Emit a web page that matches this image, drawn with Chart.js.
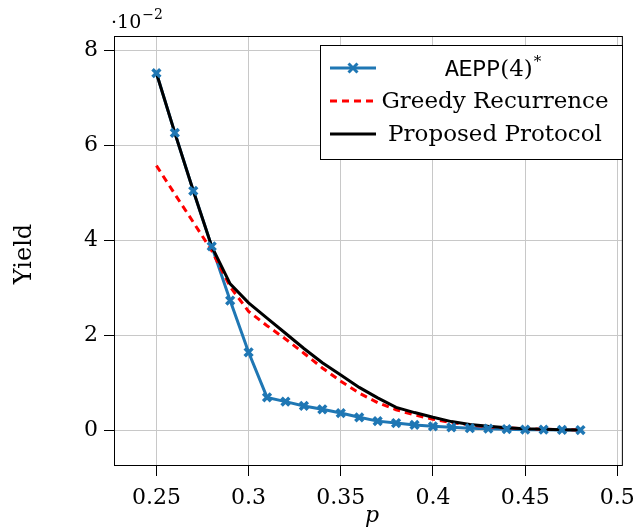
<!DOCTYPE html>
<html>
<head>
<meta charset="utf-8">
<script src="https://cdn.jsdelivr.net/npm/chart.js@4.4.1/dist/chart.umd.min.js"></script>
<style>
  html, body { margin: 0; padding: 0; background: #fff; }
  #wrap { width: 644px; height: 531px; }
</style>
</head>
<body>
<div id="wrap"><canvas id="myChart" width="644" height="531"></canvas></div>
<script>
// p values (x axis)
const pValues = [0.25, 0.26, 0.27, 0.28, 0.29, 0.30, 0.31, 0.32, 0.33, 0.34, 0.35, 0.36,
                 0.37, 0.38, 0.39, 0.40, 0.41, 0.42, 0.43, 0.44, 0.45, 0.46, 0.47, 0.48];

// yields, in units of 10^-2
const aeppYield = [7.52, 6.26, 5.04, 3.87, 2.73, 1.64, 0.69, 0.60, 0.51, 0.44, 0.36, 0.27,
                   0.19, 0.15, 0.11, 0.08, 0.06, 0.04, 0.03, 0.02, 0.01, 0.01, 0.005, 0.003];
const greedyYield = [5.57, 4.97, 4.38, 3.78, 3.02, 2.50, 2.20, 1.92, 1.62, 1.31, 1.03, 0.78,
                     0.58, 0.43, 0.32, 0.23, 0.16, 0.11, 0.07, 0.05, 0.03, 0.02, 0.01, 0.005];
const proposedYield = [7.52, 6.26, 5.04, 3.87, 3.08, 2.68, 2.36, 2.04, 1.72, 1.42, 1.16, 0.90,
                       0.68, 0.48, 0.37, 0.27, 0.18, 0.12, 0.08, 0.05, 0.03, 0.02, 0.01, 0.005];

const xTicks = [0.25, 0.3, 0.35, 0.4, 0.45, 0.5];
const yTicks = [0, 2, 4, 6, 8];
const xTickLabels = ['0.25', '0.3', '0.35', '0.4', '0.45', '0.5'];

const BLUE = 'rgb(31,119,180)';
const SERIF = '"DejaVu Serif", serif';
const MONO = '"Liberation Mono", monospace';

const pts = arr => pValues.map((p, i) => ({ x: p, y: arr[i] }));

const legendItems = [
    { kind: 'aepp', color: BLUE, dash: [] },
    { label: 'Greedy Recurrence', color: 'rgb(255,0,0)', dash: [7, 5] },
    { label: 'Proposed Protocol', color: '#000', dash: [] }
];

const extras = {
    id: 'extras',
    afterDraw(chart) {
        const ctx = chart.ctx;
        const a = chart.chartArea;
        ctx.save();
        // frame
        ctx.strokeStyle = '#000';
        ctx.lineWidth = 1;
        ctx.strokeRect(a.left + 0.5, a.top + 0.5, a.right - a.left - 1, a.bottom - a.top - 1);

        // exponent label
        ctx.fillStyle = '#000';
        ctx.textBaseline = 'alphabetic';
        ctx.textAlign = 'left';
        ctx.font = '19px ' + SERIF;
        ctx.fillText('\u00b710', 111, 28);
        let w = ctx.measureText('\u00b710').width;
        ctx.font = '14px ' + SERIF;
        ctx.fillText('\u22122', 111 + w + 1, 19);

        // axis titles
        ctx.font = 'italic 22px ' + SERIF;
        ctx.textAlign = 'center';
        ctx.fillText('p', 372, 522);
        ctx.save();
        ctx.translate(31, 254);
        ctx.rotate(-Math.PI / 2);
        ctx.font = '24px ' + SERIF;
        ctx.fillText('Yield', 0, 0);
        ctx.restore();

        // legend
        const bx = 320, by = 45, bw = 302, bh = 114;
        ctx.fillStyle = '#fff';
        ctx.fillRect(bx, by, bw, bh);
        ctx.strokeStyle = '#000';
        ctx.strokeRect(bx + 0.5, by + 0.5, bw, bh);
        const rows = [68, 101, 134];
        const cx = 495;
        legendItems.forEach((it, i) => {
            const y = rows[i];
            ctx.strokeStyle = it.color;
            ctx.lineWidth = 3;
            ctx.setLineDash(it.dash);
            ctx.beginPath();
            ctx.moveTo(330, y);
            ctx.lineTo(376, y);
            ctx.stroke();
            ctx.setLineDash([]);
            ctx.fillStyle = '#000';
            ctx.textBaseline = 'middle';
            if (it.kind === 'aepp') {
                // marker
                ctx.strokeStyle = BLUE;
                ctx.lineWidth = 3;
                const mx = 353, r = 4.5;
                ctx.beginPath();
                ctx.moveTo(mx - r, y - r); ctx.lineTo(mx + r, y + r);
                ctx.moveTo(mx - r, y + r); ctx.lineTo(mx + r, y - r);
                ctx.stroke();
                let x = 445;
                ctx.textAlign = 'left';
                ctx.font = '23px ' + MONO;
                ctx.fillText('AEPP', x, y + 2);
                x += ctx.measureText('AEPP').width;
                ctx.font = '23px ' + SERIF;
                ctx.fillText('(4)', x, y + 2);
                x += ctx.measureText('(4)').width + 1;
                ctx.font = '15px ' + SERIF;
                ctx.fillText('*', x, y - 6);
            } else {
                ctx.textAlign = 'center';
                ctx.font = '23px ' + SERIF;
                ctx.fillText(it.label, cx, y + 1);
            }
        });
        ctx.restore();
    }
};

const canvas = document.getElementById('myChart');
const ctx = canvas.getContext('2d');

const chart = new Chart(ctx, {
    type: 'line',
    data: {
        datasets: [
            {   // AEPP markers, drawn on top
                label: 'AEPP(4)* markers',
                data: pts(aeppYield),
                showLine: false,
                pointStyle: 'crossRot',
                pointRadius: 5.5,
                pointBorderWidth: 3.5,
                pointBorderColor: BLUE,
                pointBackgroundColor: BLUE
            },
            {
                label: 'Proposed Protocol',
                data: pts(proposedYield),
                borderColor: '#000',
                borderWidth: 3,
                pointRadius: 0,
                tension: 0
            },
            {
                label: 'Greedy Recurrence',
                data: pts(greedyYield),
                borderColor: 'rgb(255,0,0)',
                borderWidth: 3,
                borderDash: [7, 5],
                pointRadius: 0,
                tension: 0
            },
            {
                label: 'AEPP(4)*',
                data: pts(aeppYield),
                borderColor: BLUE,
                borderWidth: 3,
                pointRadius: 0,
                tension: 0
            }
        ]
    },
    options: {
        responsive: false,
        animation: false,
        devicePixelRatio: 1,
        layout: { padding: { left: 0, top: 36, right: 15, bottom: 0 } },
        plugins: {
            legend: { display: false },
            tooltip: { enabled: false }
        },
        scales: {
            x: {
                type: 'linear',
                min: 0.227,
                max: 0.503,
                afterBuildTicks: s => { s.ticks = xTicks.map(v => ({ value: v })); },
                afterFit: s => { s.height = 65; },
                grid: { color: '#c8c8c8', tickColor: '#000', tickLength: 10, lineWidth: 1 },
                border: { display: false },
                ticks: {
                    font: { family: SERIF, size: 22 },
                    color: '#000',
                    padding: 9,
                    maxRotation: 0,
                    callback: v => xTickLabels[xTicks.indexOf(Math.round(v * 100) / 100)] ?? ''
                }
            },
            y: {
                type: 'linear',
                min: -0.755,
                max: 8.3,
                afterBuildTicks: s => { s.ticks = yTicks.map(v => ({ value: v })); },
                afterFit: s => { s.width = 114; },
                grid: { color: '#c8c8c8', tickColor: '#000', tickLength: 10, lineWidth: 1 },
                border: { display: false },
                ticks: {
                    font: { family: SERIF, size: 22 },
                    color: '#000',
                    padding: 6,
                    callback: v => String(v)
                }
            }
        }
    },
    plugins: [extras]
});
</script>
</body>
</html>
